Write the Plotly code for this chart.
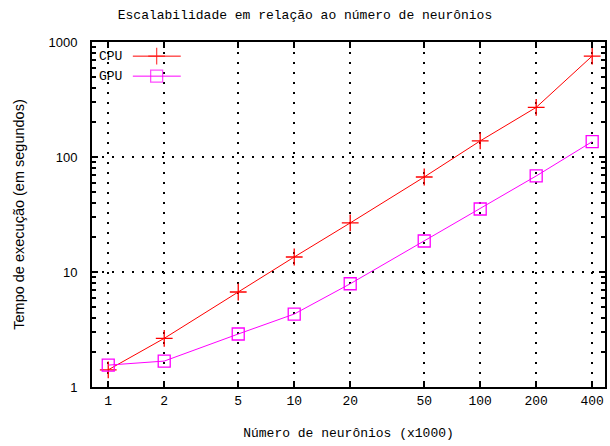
import math
import plotly.graph_objects as go

# Número de neurônios (x1000)
neuronios = [1, 2, 5, 10, 20, 50, 100, 200, 400]
# Tempo de execução (s)
tempo_cpu = [1.41, 2.65, 6.7, 13.5, 26.7, 67, 138, 270, 755]
tempo_gpu = [1.55, 1.68, 2.89, 4.31, 7.9, 18.6, 35.3, 68.4, 136]
x_ticks = [1, 2, 5, 10, 20, 50, 100, 200, 400]
y_ticks = [1, 10, 100, 1000]
y_minor = [m * d for d in (1, 10, 100) for m in range(2, 10)]

RED = "#ff0000"
MAG = "#ff00ff"
MONO = "Liberation Mono, DejaVu Sans Mono, monospace"
SANS = "Liberation Sans, Arial, sans-serif"
GRID_DASH = "1.5px,8.5px"
X_RANGE = [-0.0873, 2.671]
Y_RANGE = [0, 3]


def frac(v, rng):
    """Position of a log-axis value as a fraction of the plot span."""
    return (math.log10(v) - rng[0]) / (rng[1] - rng[0])


fig = go.Figure()
fig.add_trace(go.Scatter(
    x=neuronios, y=tempo_cpu, mode="lines+markers", name="CPU",
    line=dict(color=RED, width=1),
    marker=dict(symbol="cross-thin", size=12, line=dict(color=RED, width=1.3)),
    showlegend=False,
))
fig.add_trace(go.Scatter(
    x=neuronios, y=tempo_gpu, mode="lines+markers", name="GPU",
    line=dict(color=MAG, width=1),
    marker=dict(symbol="square-open", size=12, color=MAG, line=dict(color=MAG, width=1.3)),
    showlegend=False, yaxis="y3",
))

# key samples drawn on an overlay axis spanning the plot area
key_rows = [("CPU", RED, "cross-thin", 12, 0.959), ("GPU", MAG, "square-open", 12, 0.901)]
for label, col, sym, sz, yk in key_rows:
    fig.add_trace(go.Scatter(
        x=[0.0796, 0.126, 0.173], y=[yk, yk, yk], mode="lines+markers",
        xaxis="x2", yaxis="y2", showlegend=False, hoverinfo="skip",
        line=dict(color=col, width=1),
        marker=dict(symbol=sym, size=[0, sz, 0], color=col, line=dict(color=col, width=1.3)),
    ))
    fig.add_annotation(x=0.062, y=yk, xref="x2", yref="y2", text=label, showarrow=False,
                       xanchor="right", yanchor="middle",
                       font=dict(family=MONO, size=13, color="black"))

fig.update_layout(
    width=610, height=446,
    margin=dict(l=92, r=3, t=42, b=59),
    paper_bgcolor="white", plot_bgcolor="white",
    title=dict(text="Escalabilidade em relação ao número de neurônios",
               x=0.5, xanchor="center", y=1 - 14 / 446, yanchor="middle",
               font=dict(family=MONO, size=13, color="black")),
    xaxis=dict(
        type="log", range=X_RANGE,
        tickvals=x_ticks, ticktext=[str(v) for v in x_ticks],
        ticks="inside", ticklen=6, tickwidth=2, tickcolor="black",
        showline=True, linewidth=2, linecolor="black", mirror="ticks",
        showgrid=True, gridcolor="black", griddash=GRID_DASH, gridwidth=1.5,
        zeroline=False,
        tickfont=dict(family=MONO, size=13, color="black"),
        title=dict(text="Número de neurônios (x1000)", standoff=20,
                   font=dict(family=MONO, size=13, color="black")),
    ),
    yaxis=dict(
        type="log", range=Y_RANGE,
        tickvals=y_ticks, ticktext=[str(v) for v in y_ticks],
        ticks="inside", ticklen=6, tickwidth=2, tickcolor="black",
        showline=True, linewidth=2, linecolor="black", mirror="ticks",
        showgrid=True, gridcolor="black", griddash=GRID_DASH, gridwidth=1.5,
        zeroline=False, ticklabelstandoff=10,
        tickfont=dict(family=SANS, size=13, color="black"),
        title=dict(text="Tempo de execução (em segundos)", standoff=20,
                   font=dict(family=SANS, size=14.5, color="black")),
    ),
    # overlay axes: hold the key samples and draw the major tick marks
    xaxis2=dict(
        overlaying="x", range=[0, 1], domain=[0, 1], visible=True,
        tickmode="array", tickvals=[frac(v, X_RANGE) for v in x_ticks],
        showticklabels=False, ticks="inside", ticklen=6, tickwidth=2, tickcolor="black",
        showline=False, mirror="ticks", showgrid=False, zeroline=False,
    ),
    yaxis2=dict(
        overlaying="y", range=[0, 1], anchor="x2", side="left", visible=True,
        tickmode="array", tickvals=[frac(v, Y_RANGE) for v in y_ticks],
        showticklabels=False, ticks="inside", ticklen=6, tickwidth=2, tickcolor="black",
        showline=False, mirror="ticks", showgrid=False, zeroline=False,
    ),
    # minor decade subdivisions on both vertical borders
    yaxis3=dict(
        overlaying="y", type="log", range=Y_RANGE, anchor="x", side="left",
        tickmode="array", tickvals=y_minor, showticklabels=False,
        ticks="inside", ticklen=4, tickwidth=2, tickcolor="black",
        showline=True, linewidth=2, linecolor="black", mirror="ticks",
        showgrid=False, zeroline=False,
    ),
)

fig.write_html("out.html")
